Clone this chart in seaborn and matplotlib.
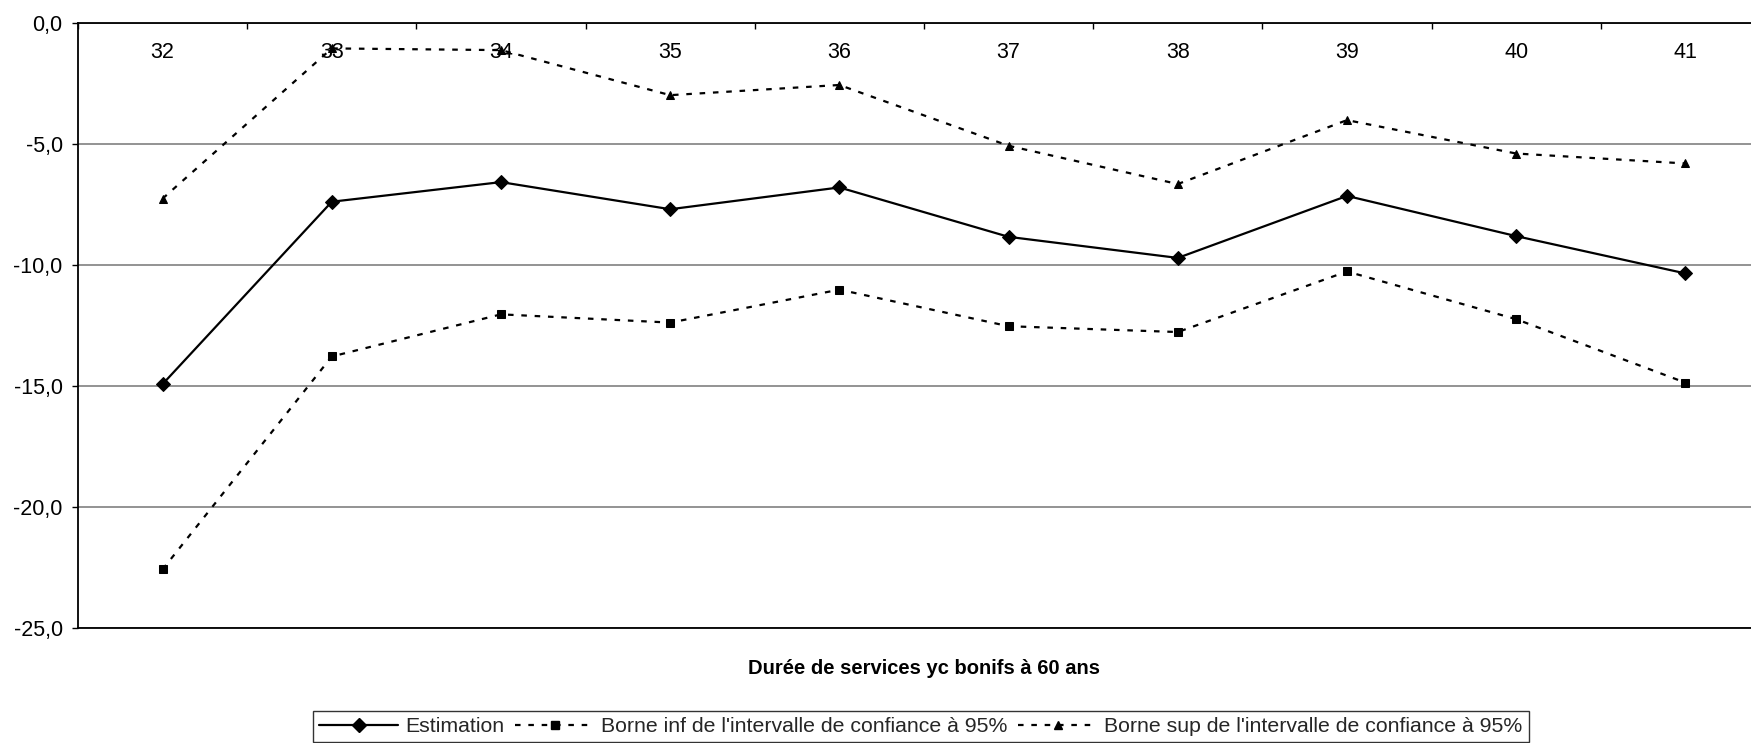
import numpy as np
import pandas as pd
import matplotlib
matplotlib.use("Agg")
import matplotlib.pyplot as plt
import seaborn as sns
from matplotlib.ticker import FuncFormatter, FixedLocator, NullFormatter
from matplotlib.lines import Line2D

categories = ["32", "33", "34", "35", "36", "37", "38", "39", "40", "41"]
estimation = [-14.93, -7.40, -6.59, -7.71, -6.81, -8.85, -9.72, -7.16, -8.82, -10.36]
borne_inf = [-22.58, -13.79, -12.05, -12.39, -11.03, -12.54, -12.78, -10.28, -12.25, -14.87]
borne_sup = [-7.27, -1.07, -1.14, -3.00, -2.58, -5.09, -6.67, -4.03, -5.41, -5.82]
labels = ["Estimation",
          "Borne inf de l'intervalle de confiance à 95%",
          "Borne sup de l'intervalle de confiance à 95%"]
xlabel = "Durée de services yc bonifs à 60 ans"

sns.set_theme(style="white")
plt.rcParams["font.family"] = ["Liberation Sans", "DejaVu Sans"]

W, H = 1751, 743
fig = plt.figure(figsize=(W / 100, H / 100), dpi=100)
left, right, top, bottom = 78, 1770, 22.5, 628
ax = fig.add_axes([left / W, 1 - bottom / H, (right - left) / W, (bottom - top) / H])

pos = np.arange(len(categories))
df = pd.DataFrame({"pos": pos, "est": estimation, "inf": borne_inf, "sup": borne_sup})

lw = 1.6
dash = (0, (2.5, 3.5))
sns.lineplot(data=df, x="pos", y="est", ax=ax, color="black", lw=lw,
             marker="D", markersize=7, markeredgecolor="black", zorder=4)
sns.lineplot(data=df, x="pos", y="inf", ax=ax, color="black", lw=lw,
             marker="s", markersize=5.5, markeredgecolor="black", zorder=4)
sns.lineplot(data=df, x="pos", y="sup", ax=ax, color="black", lw=lw,
             marker="^", markersize=5.5, markeredgecolor="black", zorder=4)
for l in ax.lines[1:3]:
    l.set_linestyle(dash)

ax.set_xlim(-0.5, len(categories) - 0.5)
ax.set_ylim(-25, 0)
ax.set_yticks([0, -5, -10, -15, -20, -25])
ax.yaxis.set_major_formatter(FuncFormatter(lambda v, p: f"{v:.1f}".replace(".", ",")))
ax.grid(axis="y", color="#808080", lw=1.2)
ax.grid(axis="x", visible=False)
for s in ["left", "top", "bottom"]:
    ax.spines[s].set_visible(True)
    ax.spines[s].set_color("black")
    ax.spines[s].set_linewidth(1.3)
ax.spines["right"].set_visible(False)

# category axis at the top (value 0), labels beneath it
ax.xaxis.tick_top()
ax.xaxis.set_major_locator(FixedLocator(np.arange(-0.5, len(categories), 1.0)))
ax.xaxis.set_major_formatter(NullFormatter())
ax.xaxis.set_minor_locator(FixedLocator(pos))
ax.xaxis.set_minor_formatter(FuncFormatter(lambda v, p: categories[int(round(v))]))
ax.tick_params(axis="x", which="major", top=True, bottom=False, direction="in",
               length=4.5, width=1.0, color="black", labeltop=False, labelbottom=False)
ax.tick_params(axis="x", which="minor", top=True, bottom=False, length=0,
               labeltop=True, labelbottom=False, labelsize=15.5, pad=-29.5, colors="black")
ax.tick_params(axis="y", left=True, direction="out", length=4.5, width=1.0,
               color="black", labelsize=15.5, pad=6.5, labelcolor="black")

ax.set_ylabel("")
ax.set_xlabel(xlabel, fontsize=14.5, fontweight="bold", labelpad=22, color="black")
ax.xaxis.set_label_position("bottom")

handles = [
    Line2D([], [], color="black", lw=lw, marker="D", markersize=7),
    Line2D([], [], color="black", lw=lw, marker="s", markersize=5.5, linestyle=dash),
    Line2D([], [], color="black", lw=lw, marker="^", markersize=5.5, linestyle=dash),
]
leg = fig.legend(handles, labels, loc="center", bbox_to_anchor=(921 / W, 1 - 726.5 / H),
                 ncol=3, fontsize=15.3, frameon=True, fancybox=False, edgecolor="black",
                 handlelength=3.7, handletextpad=0.35, columnspacing=0.5,
                 borderpad=0.3, borderaxespad=0)
leg.get_frame().set_linewidth(1.0)

fig.savefig("out.png", dpi=100, facecolor="white")
